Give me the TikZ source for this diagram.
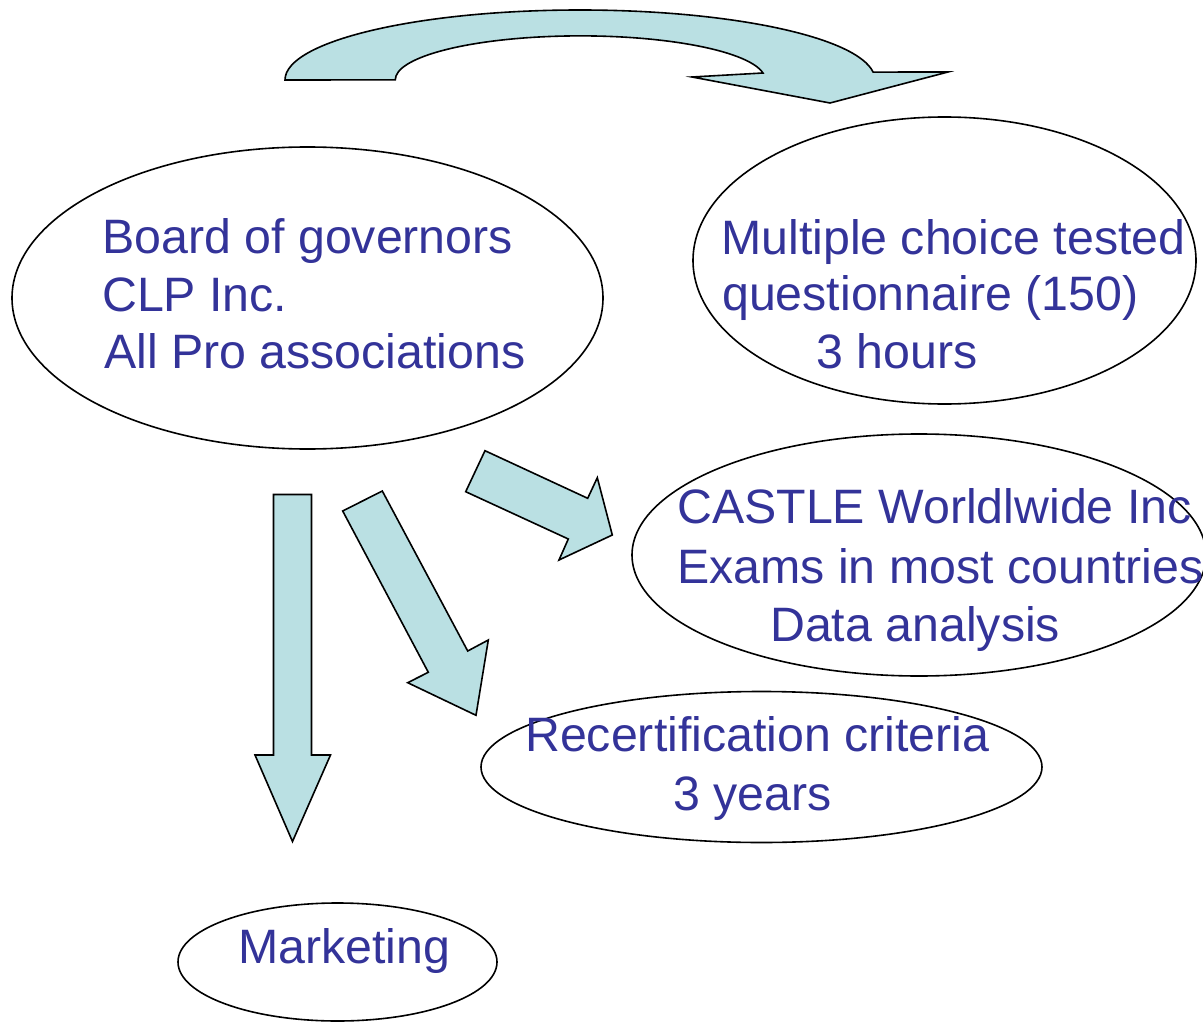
\documentclass[tikz,border=0pt]{standalone}
\usepackage{fontspec}
\setmainfont{Liberation Sans}
\usetikzlibrary{shapes.geometric}
\definecolor{ppblue}{RGB}{51,51,153}
\definecolor{ppfill}{RGB}{186,224,227}
\tikzset{
	oval/.style={draw, ellipse, line width=1.6pt, inner sep=0pt},
	txt/.style={anchor=base west, inner sep=0pt, text=ppblue, font=\fontsize{48.3}{58}\selectfont},
	blockarrow/.style={draw, fill=ppfill, line width=1.6pt, line join=miter}
}
\begin{document}
\begin{tikzpicture}[x=1pt, y=-1pt]
		\useasboundingbox (0,0) rectangle (1203,1022);
		%ovals
		\node[oval, minimum width=591pt, minimum height=302pt] (board) at (307.5,298){};
		\node[oval, minimum width=503pt, minimum height=287pt] (quest) at (944.5,260.5){};
		\node[oval, minimum width=574pt, minimum height=242pt] (castle) at (919,555){};
		\node[oval, minimum width=561pt, minimum height=151pt] (recert) at (761.5,767){};
		\node[oval, minimum width=319pt, minimum height=118pt] (market) at (337.5,962){};
		
		%texts
		\node[txt] (board1) at (102,253){Board of governors};
		\node[txt] (board2) at (102,311){CLP Inc.};
		\node[txt] (board3) at (104,368){All Pro associations};
		\node[txt] (quest1) at (721,254){Multiple choice tested};
		\node[txt] (quest2) at (722,310){questionnaire (150)};
		\node[txt] (quest3) at (816,368){3 hours};
		\node[txt] (castle1) at (677,523){CASTLE Worldlwide Inc};
		\node[txt] (castle2) at (677,583){Exams in most countries};
		\node[txt] (castle3) at (770,641){Data analysis};
		\node[txt] (recert1) at (525,751){Recertification criteria};
		\node[txt] (recert2) at (673,810){3 years};
		\node[txt] (market1) at (238,963){Marketing};
		
		%curved arrow on top
		\draw[blockarrow] (285,80) arc[start angle=180, end angle=6.5, x radius=295pt, y radius=70pt]
			-- (948,72) -- (830,103) -- (692,77) -- (763,73)
			arc[start angle=9, end angle=180, x radius=185pt, y radius=44pt] -- cycle;
		
		%block arrows
		\draw[blockarrow] (273.5,494.5) -- (311.5,494.5) -- (311.5,755) -- (330.5,755) -- (292.5,841.5) -- (255,755) -- (273.5,755) -- cycle;
		\draw[blockarrow] (342.7,511) -- (382.3,491) -- (467.7,651) -- (488.3,640) -- (476,715.3) -- (407.7,682.7) -- (428.3,672.3) -- cycle;
		\draw[blockarrow] (485,450.7) -- (587.7,498.3) -- (597.3,477.7) -- (612.3,535) -- (559,560) -- (568.3,539) -- (465.7,491.7) -- cycle;
\end{tikzpicture}
\end{document}
